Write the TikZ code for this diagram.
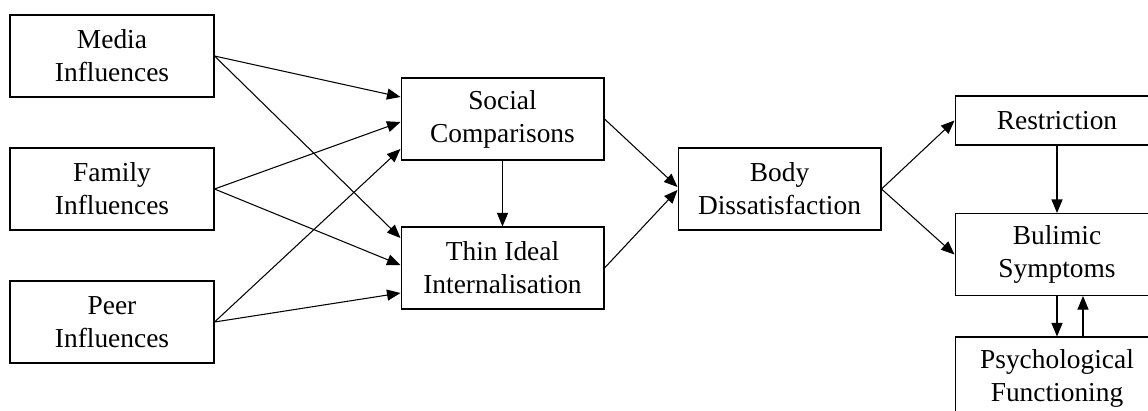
\documentclass[tikz,border=0pt]{standalone}
\usepackage{fontspec}
\setmainfont{Liberation Serif}
\usepackage{tikz}
\usetikzlibrary{positioning, calc, arrows.meta}

\tikzset{
  factor/.style={draw, line width=0.6pt, align=center, minimum width=4.08cm, minimum height=1.64cm,
    inner sep=0pt, font=\fontsize{15.6}{18.8}\selectfont},
  link/.style={line width=0.6pt, -{Triangle[length=0.27cm, width=0.22cm]}}
}

\begin{document}
\begin{tikzpicture}[x=0.02cm, y=-0.02cm]
    % Frame of the picture
    \clip (0,0) rectangle (1148,410);
    \fill[white] (0,0) rectangle (1148,410);

    % Influences
    \node[factor] (media) at (112,56) {Media\\Influences};
    \node[factor] (family) at (112,189) {Family\\Influences};
    \node[factor] (peer) at (112,322) {Peer\\Influences};

    % Mediators
    \node[factor, minimum width=4.06cm] (social) at (502.5,119) {Social\\Comparisons};
    \node[factor, minimum width=4.06cm] (thin) at (502.5,268) {Thin Ideal\\Internalisation};
    \node[factor, minimum width=4.06cm] (body) at (779.5,189) {Body\\Dissatisfaction};

    % Outcomes
    \node[factor, minimum height=0.98cm] (restr) at (1057,120.5) {Restriction};
    \node[factor] (bulimic) at (1057,254.5) {Bulimic\\Symptoms};
    \node[factor] (psych) at (1057,378) {Psychological\\Functioning};

    % Influences to mediators
    \foreach \src/\a/\b in {media/-22/-30, family/3/-3, peer/30/25} {
      \draw[link] (\src.east) -- ($(social.west)+(0,\a)$);
      \draw[link] (\src.east) -- ($(thin.west)+(0,\b)$);
    }

    % Mediators to body dissatisfaction
    \draw[link] (social.south) -- (thin.north);
    \draw[link] (social.east) -- ($(body.west)+(0,-2)$);
    \draw[link] (thin.east) -- ($(body.west)+(0,1)$);

    % Body dissatisfaction to outcomes
    \draw[link] (body.east) -- (restr.west);
    \draw[link] (body.east) -- (bulimic.west);
    \draw[link] (restr.south) -- (bulimic.north);
    \draw[link] (bulimic.south) -- (psych.north);
    \draw[link] ($(psych.north)+(26,0)$) -- ($(bulimic.south)+(26,0)$);
\end{tikzpicture}
\end{document}
